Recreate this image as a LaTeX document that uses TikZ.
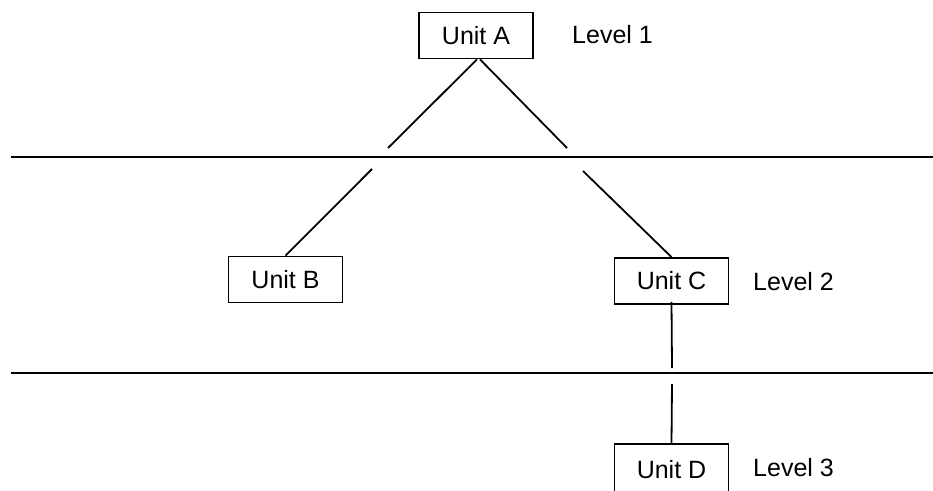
\documentclass[tikz,border=0pt]{standalone}
\usepackage{fontspec}
\setmainfont{Liberation Sans}
\begin{document}
\begin{tikzpicture}[x=1pt,y=-1pt,
  unitbox/.style={draw,line width=1.8pt,minimum width=114pt,minimum height=46pt,inner sep=0pt,font=\fontsize{25}{30}\selectfont},
  lvl/.style={anchor=west,inner sep=0pt,font=\fontsize{25}{30}\selectfont},
  conn/.style={line width=1.8pt},
  sep/.style={line width=2.4pt}]
\useasboundingbox (0,0) rectangle (933,490);
\node[unitbox] (a) at (476,35.5) {Unit A};
\node[unitbox] (b) at (285.5,279.5) {Unit B};
\node[unitbox] (c) at (671.5,281) {Unit C};
\node[unitbox,minimum height=54pt] (d) at (671.5,471) {\raisebox{3pt}{Unit D}};
\node[lvl] (l1) at (572,35) {Level 1};
\node[lvl] (l2) at (753,282) {Level 2};
\node[lvl] (l3) at (753,468) {Level 3};
\coordinate (s1a) at (11,157);
\coordinate (s1b) at (933,157);
\coordinate (s2a) at (11,373);
\coordinate (s2b) at (933,373);
\draw[sep] (s1a) -- (s1b);
\draw[sep] (s2a) -- (s2b);
\coordinate (la1) at (388,148);
\coordinate (la2) at (372,169);
\coordinate (ra1) at (567,148);
\coordinate (ra2) at (583,171);
\coordinate (ca1) at (672,368);
\coordinate (ca2) at (672,384);
\draw[conn] ([xshift=1pt]a.south) -- (la1);
\draw[conn] (la2) -- (b.north);
\draw[conn] ([xshift=4pt]a.south) -- (ra1);
\draw[conn] (ra2) -- (c.north);
\draw[conn] ([yshift=3pt]c.south) -- (ca1);
\draw[conn] (ca2) -- (d.north);
\end{tikzpicture}
\end{document}
